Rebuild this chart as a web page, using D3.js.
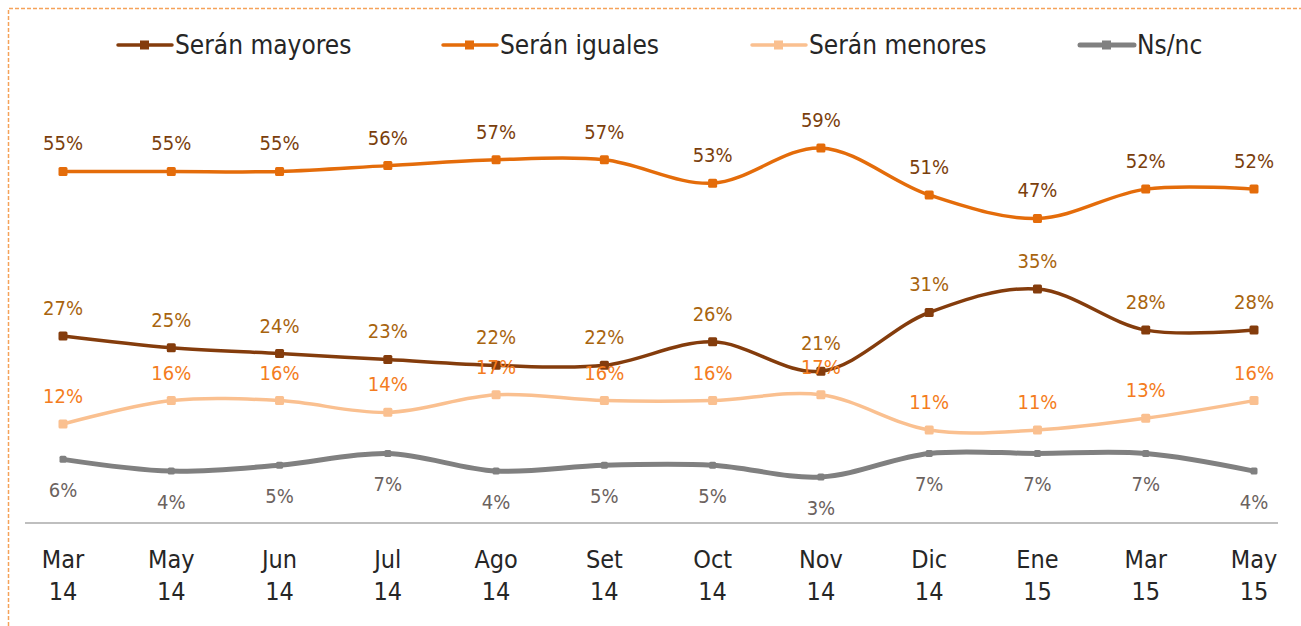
<!DOCTYPE html>
<html>
<head>
<meta charset="utf-8">
<script src="https://cdn.jsdelivr.net/npm/d3@7"></script>
<style>
  body { margin: 0; background: #fff; }
  svg { display: block; font-family: "DejaVu Sans Condensed", "DejaVu Sans", Verdana, sans-serif; }
</style>
</head>
<body>
<div id="chart"></div>
<script>
const months = ["Mar", "May", "Jun", "Jul", "Ago", "Set", "Oct", "Nov", "Dic", "Ene", "Mar", "May"];
const years = ["14", "14", "14", "14", "14", "14", "14", "14", "14", "15", "15", "15"];

const mayores = [27, 25, 24, 23, 22, 22, 26, 21, 31, 35, 28, 28];
const iguales = [55, 55, 55, 56, 57, 57, 53, 59, 51, 47, 52, 52];
const menores = [12, 16, 16, 14, 17, 16, 16, 17, 11, 11, 13, 16];
const nsnc = [6, 4, 5, 7, 4, 5, 5, 3, 7, 7, 7, 4];

const seriesNames = ["Serán mayores", "Serán iguales", "Serán menores", "Ns/nc"];

const W = 1301, H = 626;

const series = [
  { name: seriesNames[0], values: mayores, color: "#843c0c", label: "#a8640e", width: 3.5, below: false },
  { name: seriesNames[1], values: iguales, color: "#e46c0a", label: "#7a3e0c", width: 3.5, below: false },
  { name: seriesNames[2], values: menores, color: "#fac090", label: "#f47c20", width: 3.5, below: false },
  { name: seriesNames[3], values: nsnc, color: "#808080", label: "#6b625e", width: 5, below: true },
];

const x = d3.scalePoint(d3.range(months.length), [63, 1254]);
const y = d3.scaleLinear([0, 59], [494.6, 148]);

const svg = d3.select("#chart").append("svg")
  .attr("width", W)
  .attr("height", H);

// dashed frame
svg.append("path")
  .attr("d", `M8.5,${H} L8.5,8.5 L${W},8.5`)
  .attr("fill", "none")
  .attr("stroke", "#f5a25a")
  .attr("stroke-width", 1.5)
  .attr("stroke-dasharray", "4,2");

// axis baseline
svg.append("line")
  .attr("x1", 25).attr("x2", 1278)
  .attr("y1", 523).attr("y2", 523)
  .attr("stroke", "#bfbfbf")
  .attr("stroke-width", 2);

// category labels
const ticks = svg.append("g")
  .attr("font-size", 25)
  .attr("fill", "#262626")
  .attr("text-anchor", "middle");
ticks.selectAll("text.m")
  .data(months)
  .join("text")
  .attr("class", "m")
  .attr("x", (d, i) => x(i))
  .attr("y", 568)
  .text(d => d);
ticks.selectAll("text.yr")
  .data(years)
  .join("text")
  .attr("class", "yr")
  .attr("x", (d, i) => x(i))
  .attr("y", 600)
  .text(d => d);

const line = d3.line()
  .x((d, i) => x(i))
  .y(d => y(d))
  .curve(d3.curveCatmullRom.alpha(0.5));

// draw lower series first so the orange ones sit on top
const order = [3, 2, 0, 1];
order.forEach(k => {
  const s = series[k];
  const g = svg.append("g");
  g.append("path")
    .datum(s.values)
    .attr("d", line)
    .attr("fill", "none")
    .attr("stroke", s.color)
    .attr("stroke-width", s.width)
    .attr("stroke-linecap", "round");
  const m = k === 3 ? 7 : 9;
  g.selectAll("rect")
    .data(s.values)
    .join("rect")
    .attr("x", (d, i) => x(i) - m / 2)
    .attr("y", d => y(d) - m / 2)
    .attr("width", m)
    .attr("height", m)
    .attr("rx", 1.5)
    .attr("fill", s.color);
});

// data labels
series.forEach(s => {
  svg.append("g")
    .attr("font-size", 20)
    .attr("fill", s.label)
    .attr("text-anchor", "middle")
    .selectAll("text")
    .data(s.values)
    .join("text")
    .attr("x", (d, i) => x(i))
    .attr("y", d => y(d) + (s.below ? 38 : -21))
    .text(d => d + "%");
});

// legend
const legendX = [118, 443, 752, 1080];
const legend = svg.append("g");
series.forEach((s, i) => {
  const g = legend.append("g").attr("transform", `translate(${legendX[i]},45)`);
  g.append("line")
    .attr("x1", 0).attr("x2", 54)
    .attr("stroke", s.color)
    .attr("stroke-width", i === 3 ? 5 : 3.5)
    .attr("stroke-linecap", "round");
  g.append("rect")
    .attr("x", 22).attr("y", -4.5)
    .attr("width", 9).attr("height", 9)
    .attr("fill", s.color);
  g.append("text")
    .attr("x", 57)
    .attr("y", 9)
    .attr("font-size", 26)
    .attr("fill", "#262626")
    .text(s.name);
});
</script>
</body>
</html>
